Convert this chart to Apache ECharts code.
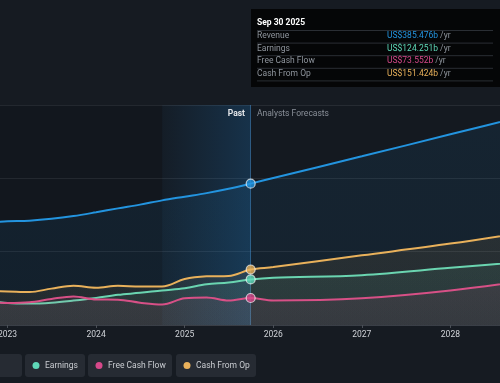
<!DOCTYPE html>
<html>
<head>
<meta charset="utf-8">
<script src="https://cdn.jsdelivr.net/npm/echarts@6/dist/echarts.min.js"></script>
<style>
html,body{margin:0;padding:0;background:#161b22;}
#c{width:500px;height:383px;}
</style>
</head>
<body>
<div id="c"></div>
<script>
// ---- data (fractional years, US$ billions) ----
const pastDates = [2022.745, 2023.0, 2023.247, 2023.496, 2023.745, 2024.0, 2024.247, 2024.496, 2024.745, 2025.0, 2025.247, 2025.496, 2025.745];
const revenuePast  = [279.8, 282.8, 284.6, 289.5, 297.1, 307.4, 318.1, 328.3, 339.9, 350.0, 359.7, 371.4, 385.5];
const earningsPast = [67.0, 60.0, 58.6, 61.0, 66.7, 73.8, 82.4, 87.7, 94.3, 100.1, 111.0, 115.6, 124.3];
const fcfPast      = [62.6, 60.0, 61.9, 71.1, 77.6, 69.5, 69.1, 60.8, 55.8, 72.8, 75.0, 66.8, 73.6];
const cfoPast      = [92.5, 91.5, 89.9, 99.2, 106.8, 101.7, 107.0, 104.9, 104.9, 125.3, 132.7, 133.8, 151.4];

const forecastDates = [2026.0, 2027.0, 2028.0, 2029.0];
const revenueFc  = [401, 460, 520, 580];
const earningsFc = [129, 136, 156, 176];
const fcfFc      = [67, 73, 94, 126];
const cfoFc      = [158, 190, 222, 259];

const yearTicks = [2023, 2024, 2025, 2026, 2027, 2028];
const seriesNames = ['Revenue', 'Earnings', 'Free Cash Flow', 'Cash From Op'];
const seriesColors = ['#2394df', '#5fd8b8', '#d6488a', '#e9b15b'];
const tooltipTitle = 'Sep 30 2025';
const tooltipValues = ['US$385.476b', 'US$124.251b', 'US$73.552b', 'US$151.424b'];
const pastLabel = 'Past';
const forecastLabel = 'Analysts Forecasts';

const nowDate = pastDates[pastDates.length - 1];
const bandStart = 2024.745;
const xMin = 2022.915, xMax = 2028.56;

function combine(past, fc) {
  const out = pastDates.map((d, i) => [d, past[i]]);
  forecastDates.forEach((d, i) => out.push([d, fc[i]]));
  return out;
}
const allPast = [revenuePast, earningsPast, fcfPast, cfoPast];
const allFc = [revenueFc, earningsFc, fcfFc, cfoFc];

const FONT = 'Roboto, "Noto Sans", sans-serif';

function hexA(hex, a) {
  const r = parseInt(hex.slice(1,3),16), g = parseInt(hex.slice(3,5),16), b = parseInt(hex.slice(5,7),16);
  return `rgba(${r},${g},${b},${a})`;
}

const series = seriesNames.map((name, k) => {
  const s = {
    name, type: 'line', smooth: 0.35, symbol: 'none', z: 5 + k,
    data: combine(allPast[k], allFc[k]),
    lineStyle: { color: seriesColors[k], width: 2 },
    itemStyle: { color: seriesColors[k] },
    areaStyle: {
      color: new echarts.graphic.LinearGradient(0, 0, 0, 1, [
        { offset: 0, color: hexA(seriesColors[k], 0.13) },
        { offset: 1, color: hexA(seriesColors[k], 0.10) }
      ])
    }
  };
  if (k === 0) {
    s.markArea = {
      silent: true,
      data: [
        [{ xAxis: xMin, itemStyle: { color: 'rgba(0,0,0,0.06)' } }, { xAxis: bandStart }],
        [{ xAxis: bandStart, itemStyle: { color: new echarts.graphic.LinearGradient(0, 0, 1, 0, [
          { offset: 0, color: 'rgba(33,150,243,0.03)' },
          { offset: 1, color: 'rgba(33,150,243,0.20)' }
        ]) } }, { xAxis: nowDate }]
      ]
    };
    s.markLine = {
      silent: true, symbol: 'none', label: { show: false },
      lineStyle: { color: 'rgba(70,140,200,0.5)', width: 1, type: 'solid' },
      data: [{ xAxis: nowDate }]
    };
  }
  return s;
});

// markers at the last actual point
series.push({
  type: 'scatter', z: 20, symbol: 'circle', symbolSize: 9,
  data: seriesNames.map((n, k) => ({
    value: [nowDate, allPast[k][allPast[k].length - 1]],
    itemStyle: { color: seriesColors[k], borderColor: 'rgba(255,255,255,0.85)', borderWidth: 1.2 }
  }))
});

// tooltip graphic
const tipX = 251, tipY = 9, rowH = 12.6;
const tipEls = [
  { type: 'rect', shape: { x: tipX, y: tipY, width: 260, height: 78 }, style: { fill: '#050607' } },
  { type: 'text', x: 257, y: 23, style: { text: tooltipTitle, fill: '#ffffff', font: 'bold 8.5px ' + FONT, textVerticalAlign: 'middle' } }
];
for (let i = 0; i < 5; i++) {
  const y = 30 + i * rowH + 0.5;
  tipEls.push({ type: 'line', shape: { x1: 257, y1: y, x2: 493, y2: y }, style: { stroke: '#2a2e34', lineWidth: 1 } });
}
seriesNames.forEach((n, i) => {
  const cy = 36 + i * rowH;
  tipEls.push({ type: 'text', x: 257, y: cy, style: { text: n, fill: '#8f959d', font: '8.5px ' + FONT, textVerticalAlign: 'middle' } });
  tipEls.push({ type: 'text', x: 387, y: cy, style: {
    text: '{v|' + tooltipValues[i] + '}{u| /yr}', textVerticalAlign: 'middle',
    rich: { v: { fill: seriesColors[i], font: '8.5px ' + FONT }, u: { fill: '#8f959d', font: '8.5px ' + FONT } }
  } });
});

// legend graphic
const legendBoxes = [[-56, 78], [25, 60], [88, 84], [176, 80]];
const legEls = [];
seriesNames.forEach((n, i) => {
  const [bx, bw] = legendBoxes[i];
  legEls.push({ type: 'rect', shape: { x: bx, y: 354, width: bw, height: 23, r: 3 }, style: { fill: '#262b33' } });
  legEls.push({ type: 'circle', shape: { cx: bx + 11, cy: 365.5, r: 3.5 }, style: { fill: seriesColors[i] } });
  legEls.push({ type: 'text', x: bx + 20, y: 365.5, style: { text: n, fill: '#c9ccd1', font: '8.5px ' + FONT, textVerticalAlign: 'middle' } });
});

const option = {
  backgroundColor: '#161b22',
  animation: false,
  grid: { left: 0, right: 0, top: 105, bottom: 58, show: true, backgroundColor: '#141920', borderWidth: 0, containLabel: false, outerBoundsMode: 'none' },
  xAxis: {
    type: 'value', min: xMin, max: xMax,
    splitLine: { show: false },
    axisLine: { show: true, lineStyle: { color: '#3a3f47' } },
    axisTick: { show: true, customValues: yearTicks, length: 3, lineStyle: { color: '#4a4f57' } },
    axisLabel: { show: true, customValues: yearTicks, formatter: v => String(Math.round(v)), color: '#d0d3d8', fontSize: 8.5, fontFamily: FONT, margin: 5, hideOverlap: false }
  },
  yAxis: {
    type: 'value', min: 0, max: 600, interval: 200,
    axisLabel: { show: false }, axisTick: { show: false }, axisLine: { show: false },
    splitLine: { show: true, lineStyle: { color: '#262b32', width: 1 } }
  },
  series,
  graphic: [
    { type: 'text', x: 245, y: 114, style: { text: pastLabel, fill: '#e6e8eb', font: 'bold 8.5px ' + FONT, textAlign: 'right', textVerticalAlign: 'middle' }, z: 100 },
    { type: 'text', x: 257, y: 114, style: { text: forecastLabel, fill: '#8a9099', font: '8.5px ' + FONT, textVerticalAlign: 'middle' }, z: 100 },
    { type: 'group', children: tipEls, z: 100 },
    { type: 'group', children: legEls, z: 100 }
  ]
};

const chart = echarts.init(document.getElementById('c'), null, { renderer: 'canvas' });
chart.setOption(option);
</script>
</body>
</html>
